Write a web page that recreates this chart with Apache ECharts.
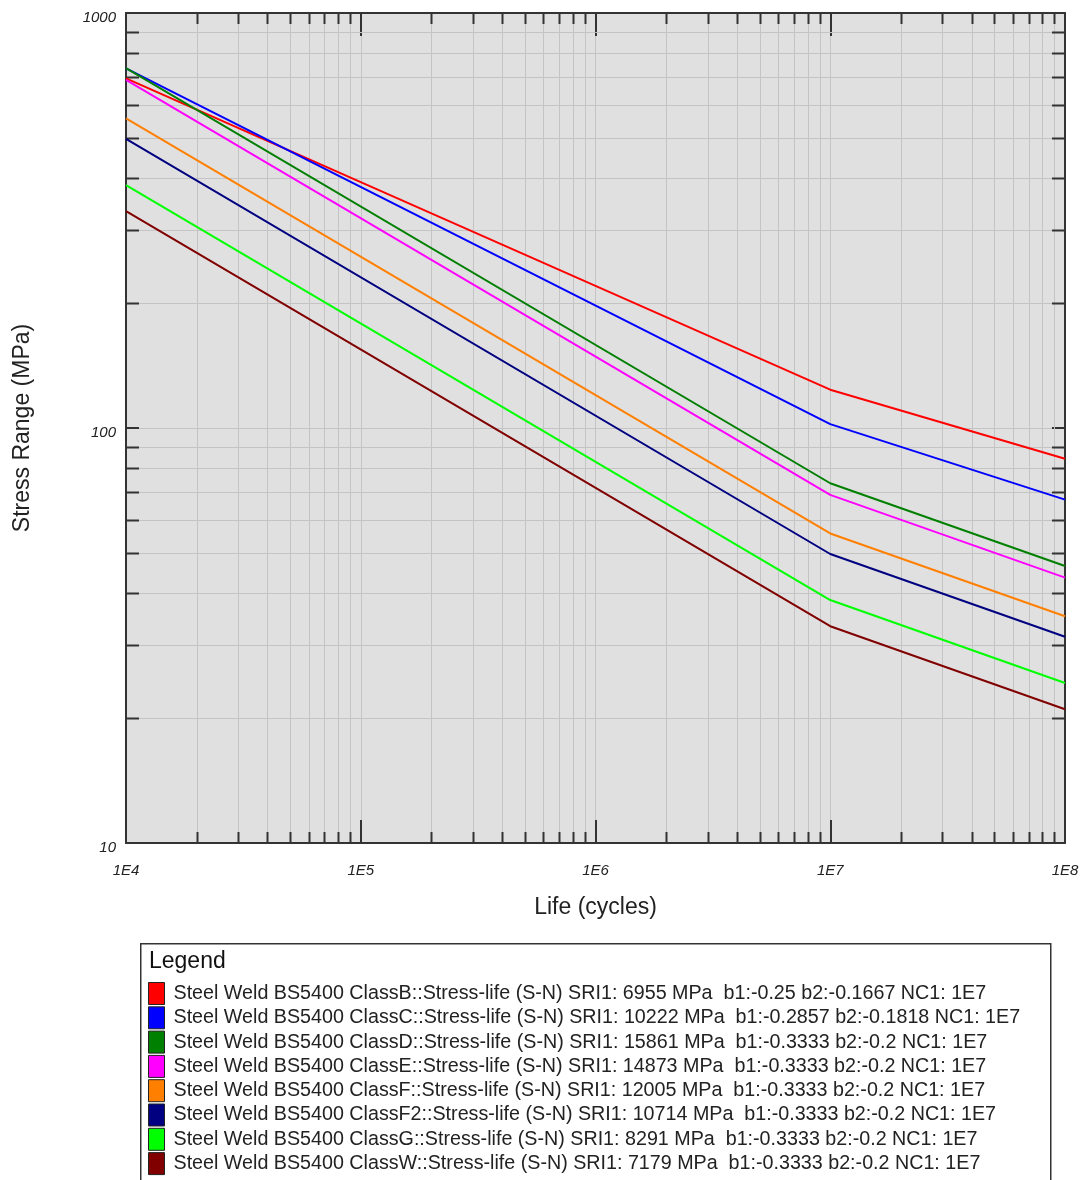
<!DOCTYPE html>
<html>
<head>
<meta charset="utf-8">
<script src="https://cdn.jsdelivr.net/npm/echarts@6/dist/echarts.min.js"></script>
<style>
html,body{margin:0;padding:0;background:#fff;}
#chart{width:1083px;height:1180px;}
</style>
</head>
<body>
<div id="chart"></div>
<script>
// Life values (cycles) at which each S-N curve is sampled
const lifePoints = [1e4, 1e7, 1e8];

// Series names (legend text)
const seriesNames = [
  'Steel Weld BS5400 ClassB::Stress-life (S-N) SRI1: 6955 MPa  b1:-0.25 b2:-0.1667 NC1: 1E7',
  'Steel Weld BS5400 ClassC::Stress-life (S-N) SRI1: 10222 MPa  b1:-0.2857 b2:-0.1818 NC1: 1E7',
  'Steel Weld BS5400 ClassD::Stress-life (S-N) SRI1: 15861 MPa  b1:-0.3333 b2:-0.2 NC1: 1E7',
  'Steel Weld BS5400 ClassE::Stress-life (S-N) SRI1: 14873 MPa  b1:-0.3333 b2:-0.2 NC1: 1E7',
  'Steel Weld BS5400 ClassF::Stress-life (S-N) SRI1: 12005 MPa  b1:-0.3333 b2:-0.2 NC1: 1E7',
  'Steel Weld BS5400 ClassF2::Stress-life (S-N) SRI1: 10714 MPa  b1:-0.3333 b2:-0.2 NC1: 1E7',
  'Steel Weld BS5400 ClassG::Stress-life (S-N) SRI1: 8291 MPa  b1:-0.3333 b2:-0.2 NC1: 1E7',
  'Steel Weld BS5400 ClassW::Stress-life (S-N) SRI1: 7179 MPa  b1:-0.3333 b2:-0.2 NC1: 1E7'
];

// Stress range (MPa) at 1E4, 1E7, 1E8 cycles
const classB  = [695.5, 123.7, 84.3];
const classC  = [735.7, 102.2, 67.2];
const classD  = [736.3, 73.6, 46.5];
const classE  = [690.4, 69.0, 43.6];
const classF  = [557.3, 55.7, 35.2];
const classF2 = [497.4, 49.7, 31.4];
const classG  = [384.9, 38.5, 24.3];
const classW  = [333.2, 33.3, 21.0];

const seriesValues = [classB, classC, classD, classE, classF, classF2, classG, classW];
const seriesColors = ['#ff0000', '#0000ff', '#008000', '#ff00ff', '#ff8000', '#000080', '#00ff00', '#800000'];

// axis ranges and tick labels
const xMin = 1e4, xMax = 1e8;
const yMin = 10, yMax = 1000;
const xTickLabels = ['1E4', '1E5', '1E6', '1E7', '1E8'];
const yTickLabels = ['10', '100', '1000'];

// minor tick positions (2..9 x each decade)
const minorTicks = [];
for (let d = 4; d < 8; d++) for (let k = 2; k <= 9; k++) minorTicks.push([k * Math.pow(10, d), yMin, 0]);
for (let d = 1; d < 3; d++) for (let k = 2; k <= 9; k++) minorTicks.push([xMin, k * Math.pow(10, d), 1]);

const chart = echarts.init(document.getElementById('chart'), null, {renderer: 'canvas'});

const axisColor = '#333';
const fontFam = '"Liberation Sans", Arial, sans-serif';
const labelFont = {fontFamily: fontFam, fontStyle: 'italic', fontSize: 15, color: '#222'};

const lineSeries = seriesNames.map((name, i) => ({
  name: name,
  type: 'line',
  xAxisIndex: 0,
  yAxisIndex: 0,
  data: lifePoints.map((x, j) => [x, seriesValues[i][j]]),
  showSymbol: false,
  symbol: 'none',
  lineStyle: {color: seriesColors[i], width: 2},
  itemStyle: {color: seriesColors[i]},
  z: 5,
  animation: false
}));

const tickSeries = {
  type: 'custom',
  name: '_ticks',
  xAxisIndex: 0,
  yAxisIndex: 0,
  silent: true,
  clip: false,
  z: 1,
  animation: false,
  encode: {x: 0, y: 1},
  data: minorTicks,
  renderItem: function (params, api) {
    const kind = api.value(2);
    if (kind === 0) {
      const v = api.value(0);
      const b = api.coord([v, yMin]);
      const t = api.coord([v, yMax]);
      const x = Math.round(b[0]) + 0.5;
      return {type: 'group', children: [
        {type: 'line', shape: {x1: x, y1: b[1], x2: x, y2: t[1]}, style: {stroke: '#c4c4c4', lineWidth: 1}},
        {type: 'line', shape: {x1: x, y1: b[1], x2: x, y2: b[1] - 11}, style: {stroke: axisColor, lineWidth: 2}},
        {type: 'line', shape: {x1: x, y1: t[1], x2: x, y2: t[1] + 11}, style: {stroke: axisColor, lineWidth: 2}}
      ]};
    } else {
      const v = api.value(1);
      const l = api.coord([xMin, v]);
      const r = api.coord([xMax, v]);
      const y = Math.round(l[1]) + 0.5;
      return {type: 'group', children: [
        {type: 'line', shape: {x1: l[0], y1: y, x2: r[0], y2: y}, style: {stroke: '#c4c4c4', lineWidth: 1}},
        {type: 'line', shape: {x1: l[0], y1: y, x2: l[0] + 13, y2: y}, style: {stroke: axisColor, lineWidth: 2}},
        {type: 'line', shape: {x1: r[0], y1: y, x2: r[0] - 13, y2: y}, style: {stroke: axisColor, lineWidth: 2}}
      ]};
    }
  }
};

const option = {
  animation: false,
  backgroundColor: '#ffffff',
  grid: {
    left: 126, right: 18, top: 13, bottom: 337,
    show: true, backgroundColor: '#e0e0e0', borderWidth: 0
  },
  xAxis: [
    {
      type: 'log', logBase: 10, min: xMin, max: xMax, position: 'bottom',
      name: 'Life (cycles)', nameLocation: 'middle', nameGap: 53,
      nameTextStyle: {fontFamily: fontFam, fontSize: 23, color: '#222'},
      axisLine: {show: true, lineStyle: {color: axisColor, width: 2}},
      axisTick: {show: true, inside: true, length: 23, lineStyle: {color: axisColor, width: 2}},
      axisLabel: Object.assign({margin: 20, showMinLabel: true, showMaxLabel: true,
        formatter: function (v) { return xTickLabels[Math.round(Math.log10(v / xMin))]; }}, labelFont),
      splitLine: {show: true, lineStyle: {color: '#c4c4c4', width: 1}},
      minorTick: {show: false}
    },
    {
      type: 'log', logBase: 10, min: xMin, max: xMax, position: 'top',
      axisLine: {show: true, lineStyle: {color: axisColor, width: 2}},
      axisTick: {show: true, inside: true, length: 23, lineStyle: {color: axisColor, width: 2}},
      axisLabel: {show: false},
      splitLine: {show: false}
    }
  ],
  yAxis: [
    {
      type: 'log', logBase: 10, min: yMin, max: yMax, position: 'left',
      name: 'Stress Range (MPa)', nameLocation: 'middle', nameGap: 92, nameRotate: 90,
      nameTextStyle: {fontFamily: fontFam, fontSize: 23, color: '#222'},
      axisLine: {show: true, lineStyle: {color: axisColor, width: 2}},
      axisTick: {show: true, inside: true, length: 13, lineStyle: {color: axisColor, width: 2}},
      axisLabel: Object.assign({margin: 10, verticalAlign: 'top', lineHeight: 10, showMinLabel: true, showMaxLabel: true,
        formatter: function (v) { return yTickLabels[Math.round(Math.log10(v / yMin))]; }}, labelFont),
      splitLine: {show: true, lineStyle: {color: '#c4c4c4', width: 1}}
    },
    {
      type: 'log', logBase: 10, min: yMin, max: yMax, position: 'right',
      axisLine: {show: true, lineStyle: {color: axisColor, width: 2}},
      axisTick: {show: true, inside: true, length: 13, lineStyle: {color: axisColor, width: 2}},
      axisLabel: {show: false},
      splitLine: {show: false}
    }
  ],
  legend: {
    show: true,
    data: seriesNames,
    orient: 'vertical',
    left: 148,
    top: 982,
    height: 260,
    padding: 0,
    itemWidth: 16,
    itemHeight: 22,
    itemGap: 1.3,
    icon: 'rect',
    selectedMode: false,
    itemStyle: {borderColor: '#222', borderWidth: 1},
    textStyle: {fontFamily: fontFam, fontSize: 19.7, lineHeight: 20, color: '#222', padding: [2, 0, 0, 4]}
  },
  graphic: [
    {
      type: 'rect', left: 140, top: 943, z: -1,
      shape: {width: 910, height: 260},
      style: {fill: '#ffffff', stroke: '#333', lineWidth: 1.5}
    },
    {
      type: 'text', left: 149, top: 950,
      style: {text: 'Legend', font: '23px "Liberation Sans", Arial, sans-serif', fill: '#111'}
    }
  ],
  series: lineSeries.concat([tickSeries])
};

chart.setOption(option);
</script>
</body>
</html>
